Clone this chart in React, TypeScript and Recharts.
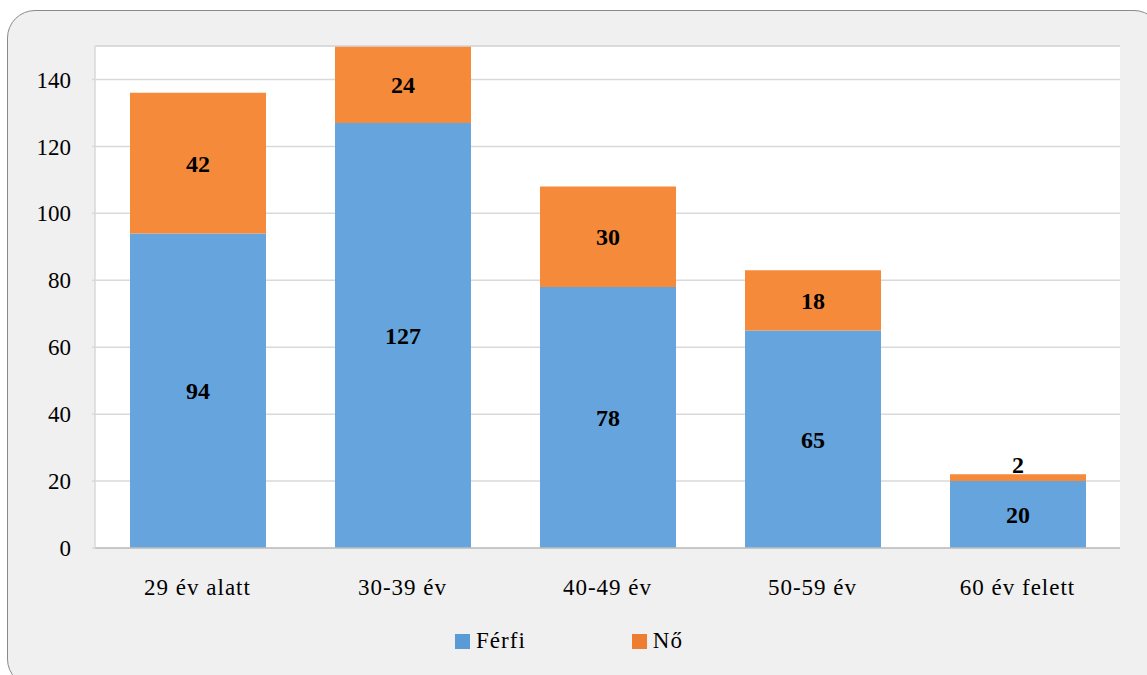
import { BarChart, Bar, XAxis, YAxis, CartesianGrid, Legend, LabelList, ReferenceLine } from 'recharts';

const categories = ['29 év alatt', '30-39 év', '40-49 év', '50-59 év', '60 év felett'];
const ferfi = [94, 127, 78, 65, 20];
const no = [42, 24, 30, 18, 2];
const yTicks = [0, 20, 40, 60, 80, 100, 120, 140];

const data = categories.map((name, i) => ({ name, ferfi: ferfi[i], no: no[i] }));

const FONT = "'Liberation Serif', 'Times New Roman', serif";
const GRID = '#d9d9d9';

const SegmentLabel = (props: any) => {
  const { x, y, width, height, value } = props;
  const cx = x + width / 2;
  const small = Math.abs(height) < 22;
  const cy = small ? y - 10 : y + height / 2;
  return (
    <text x={cx} y={cy} dy="0.35em" textAnchor="middle" fontFamily={FONT} fontSize={24} fontWeight="bold" fill="#000">
      {value}
    </text>
  );
};

const LegendBox = () => (
  <div style={{ display: 'flex', justifyContent: 'center', gap: 106, height: 30, paddingLeft: 18, alignItems: 'center', fontFamily: FONT, fontSize: 23, letterSpacing: 1, color: '#000' }}>
    {[
      { label: 'Férfi', color: '#5B9BD5' },
      { label: 'Nő', color: '#ED7D31' },
    ].map((it) => (
      <div key={it.label} style={{ display: 'flex', alignItems: 'center' }}>
        <span style={{ display: 'inline-block', width: 15, height: 15, background: it.color, marginRight: 6 }} />
        <span>{it.label}</span>
      </div>
    ))}
  </div>
);

export default function App() {
  return (
    <div style={{ position: 'fixed', left: 0, top: 0, width: 1147, height: 675, overflow: 'hidden', background: '#fff' }}>
      <div
        style={{
          position: 'absolute',
          left: 7,
          top: 10,
          width: 1153,
          height: 675,
          border: '1.5px solid #8a8a8a',
          borderRadius: 28,
          background: '#f0f0f0',
        }}
      />
      <div style={{ position: 'absolute', left: 0, top: 0 }}>
        <BarChart width={1147} height={675} data={data} margin={{ top: 46, right: 27, left: 0, bottom: 19 }} barSize={136}>
          <CartesianGrid vertical={false} stroke={GRID} strokeWidth={1.5} fill="#fff" />
          <ReferenceLine y={150} stroke={GRID} strokeWidth={1.5} />
          <XAxis
            dataKey="name"
            height={78}
            tickLine={false}
            tickMargin={25}
            axisLine={{ stroke: '#bfbfbf', strokeWidth: 1.5 }}
            tick={{ fontFamily: FONT, fontSize: 23, fill: '#000', letterSpacing: 1 }}
          />
          <YAxis
            width={95}
            domain={[0, 150]}
            ticks={yTicks}
            allowDataOverflow
            tickSize={3}
            tickMargin={21}
            tickLine={{ stroke: GRID, strokeWidth: 1.5 }}
            axisLine={{ stroke: GRID, strokeWidth: 1.5 }}
            tick={{ fontFamily: FONT, fontSize: 23, fill: '#000' }}
          />
          <YAxis yAxisId="r" orientation="right" width={0} tick={false} tickLine={false} axisLine={{ stroke: GRID, strokeWidth: 1.5 }} />
          <Legend verticalAlign="bottom" content={<LegendBox />} />
          <Bar dataKey="ferfi" name="Férfi" stackId="a" fill="#66A4DE" isAnimationActive={false}>
            <LabelList dataKey="ferfi" content={<SegmentLabel />} />
          </Bar>
          <Bar dataKey="no" name="Nő" stackId="a" fill="#F68A3B" isAnimationActive={false}>
            <LabelList dataKey="no" content={<SegmentLabel />} />
          </Bar>
        </BarChart>
      </div>
    </div>
  );
}
